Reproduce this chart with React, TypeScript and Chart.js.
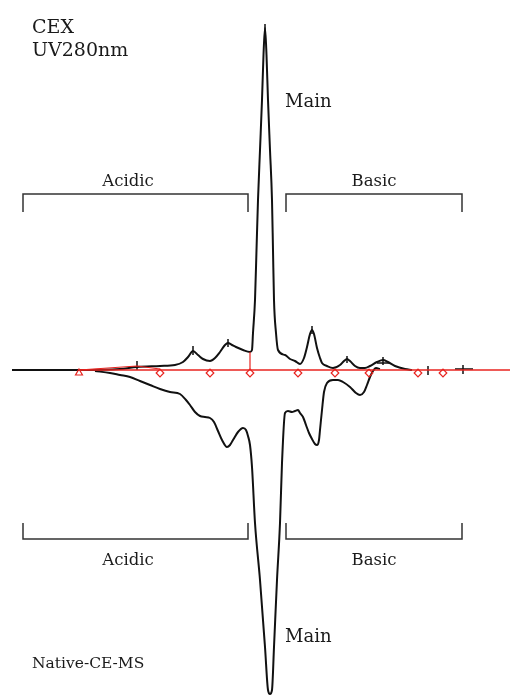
import React, { useEffect, useRef } from "react";
import { Chart, registerables } from "chart.js";

Chart.register(...registerables);

// CEX UV280nm trace (top), time in min, signal in relative units
const cexTime = [1.2, 8.0, 12.0, 13.7, 16.0, 17.5, 18.3, 18.8, 19.3, 19.8, 20.3, 21.0, 21.5, 22.0, 22.5, 22.8, 23.2, 23.6, 24.3, 25.0, 25.2, 25.3, 25.5, 25.65, 25.8, 26.0, 26.2, 26.35, 26.5, 26.65, 26.8, 27.0, 27.2, 27.3, 27.4, 27.6, 27.8, 28.5, 29.0, 29.5, 30.0, 30.4, 30.7, 31.0, 31.2, 31.4, 31.7, 32.0, 32.2, 32.7, 33.3, 34.0, 34.4, 34.7, 35.0, 35.5, 36.0, 36.5, 37.0, 37.7, 38.3, 38.8, 39.5, 40.5, 41.2];
const cexSignal = [0, 0, 1, 3, 4, 5, 8, 13, 19, 15, 11, 9, 12, 18, 25, 27, 25, 23, 20, 18, 20, 37, 70, 120, 170, 220, 270, 315, 342, 315, 270, 220, 170, 120, 70, 37, 20, 15, 11, 9, 6, 12, 23, 36, 40, 36, 22, 12, 7, 4, 2, 5, 9, 11, 9, 4, 2, 2, 4, 8, 10, 8, 4, 1, 0];

// Native-CE-MS trace (bottom, mirrored)
const msTime = [9.5, 11.0, 12.0, 13.0, 14.0, 15.0, 16.0, 17.0, 18.0, 18.6, 19.0, 19.5, 20.0, 20.5, 21.0, 21.4, 21.8, 22.2, 22.7, 23.0, 23.3, 23.8, 24.3, 24.6, 24.8, 25.0, 25.2, 25.5, 26.0, 26.5, 26.8, 27.0, 27.2, 27.4, 27.7, 28.0, 28.2, 28.5, 28.8, 29.2, 29.5, 29.8, 30.0, 30.3, 30.6, 30.9, 31.2, 31.5, 31.7, 31.9, 32.0, 32.2, 32.4, 32.7, 33.3, 33.8, 34.3, 35.0, 35.6, 36.0, 36.4, 36.7, 37.0, 37.3, 37.6, 38.0];
const msSignal = [-1, -3, -5, -7, -11, -15, -19, -22, -24, -30, -35, -42, -46, -47, -48, -52, -61, -70, -77, -75, -70, -62, -58, -60, -66, -75, -97, -153, -210, -277, -320, -324, -320, -277, -210, -153, -93, -43, -41, -42, -41, -40, -43, -47, -55, -63, -69, -74, -75, -70, -60, -40, -22, -13, -10, -10, -12, -17, -23, -25, -22, -15, -7, -1, 2, 1];

// Integration baseline (red)
const baselineTime = [7.9, 51];
const baselineSignal = [0, 0];
const integTime = [7.9, 13.7, 16.0];
const integSignal = [0, 4, 1];
const dropTime = [25.0, 25.0];
const dropSignal = [0, 18];

// Peak start/end markers (red)
const startMarkerTime = [7.9];
const markerTimes = [16.0, 21.0, 25.0, 29.8, 33.5, 36.9, 41.8, 44.3];
const markerLevel = -3;

// Black peak ticks
const tickTimes = [13.7, 19.3, 22.8, 26.5, 31.2, 34.7, 38.3, 42.8, 46.3];
const tickLow = [0, 15, 23, 338, 36, 7, 5, -5, -4];
const tickHigh = [9, 24, 31, 346, 44, 14, 13, 4, 5];
const crossTimes = [[37.7, 39.0], [45.5, 47.3]];
const crossLevel = [7, 1];

// Region brackets
const bracketStart = [2.3, 28.6];
const bracketEnd = [24.8, 46.2];
const topBracketLevel = 176;
const topBracketTip = 158;
const bottomBracketLevel = -169;
const bottomBracketTip = -153;

// Text annotations (data coordinates)
const labelText = ["CEX", "UV280nm", "Main", "Acidic", "Basic", "Acidic", "Basic", "Main", "Native-CE-MS"];
const labelTime = [3.2, 3.2, 28.5, 12.8, 37.4, 12.8, 37.4, 28.5, 3.2];
const labelSignal = [337, 314, 263, 184, 184, -195, -195, -272, -298];
const labelAlign = ["left", "left", "left", "center", "center", "center", "center", "left", "left"];
const labelSize = [19, 19, 18, 16.5, 16.5, 16.5, 16.5, 18, 15.5];

const X_MIN = 0;
const X_MAX = 51;
const Y_MIN = -326;
const Y_MAX = 370;

const zip = (xs: number[], ys: (number | null)[]) => xs.map((x, i) => ({ x, y: ys[i] }));

const labelPlugin = {
  id: "labels",
  afterDatasetsDraw(chart: any) {
    const { ctx, scales } = chart;
    ctx.save();
    ctx.fillStyle = "#1a1a1a";
    ctx.textBaseline = "alphabetic";
    labelText.forEach((t, i) => {
      ctx.font = `${labelSize[i]}px "DejaVu Serif", serif`;
      ctx.textAlign = labelAlign[i];
      ctx.fillText(t, scales.x.getPixelForValue(labelTime[i]), scales.y.getPixelForValue(labelSignal[i]));
    });
    ctx.restore();
  },
};

export default function App() {
  const ref = useRef<HTMLCanvasElement>(null);
  useEffect(() => {
    if (!ref.current) return;

    const tickData: { x: number; y: number | null }[] = [];
    tickTimes.forEach((t, i) => {
      tickData.push({ x: t, y: tickLow[i] }, { x: t, y: tickHigh[i] }, { x: t, y: null });
    });
    crossTimes.forEach((pair, i) => {
      tickData.push({ x: pair[0], y: crossLevel[i] }, { x: pair[1], y: crossLevel[i] }, { x: pair[1], y: null });
    });

    const bracketData = (level: number, tip: number) => {
      const d: { x: number; y: number | null }[] = [];
      bracketStart.forEach((s, i) => {
        d.push({ x: s, y: tip }, { x: s, y: level }, { x: bracketEnd[i], y: level }, { x: bracketEnd[i], y: tip }, { x: bracketEnd[i], y: null });
      });
      return d;
    };

    const red = "#e8231f";
    const lineBase = { showLine: true, pointRadius: 0, spanGaps: false, fill: false };

    const chart = new Chart(ref.current, {
      type: "scatter",
      data: {
        datasets: [
          { ...lineBase, data: zip(startMarkerTime, startMarkerTime.map(() => markerLevel)), showLine: false, pointRadius: 4, pointStyle: "triangle", borderColor: red, backgroundColor: "rgba(0,0,0,0)", borderWidth: 1.2, order: 0 },
          { ...lineBase, data: zip(markerTimes, markerTimes.map(() => markerLevel)), showLine: false, pointRadius: 3.8, pointStyle: "rectRot", borderColor: red, backgroundColor: "rgba(0,0,0,0)", borderWidth: 1.2, order: 0 },
          { ...lineBase, data: zip(baselineTime, baselineSignal), borderColor: red, borderWidth: 1.5, order: 1 },
          { ...lineBase, data: zip(integTime, integSignal), borderColor: red, borderWidth: 1.2, order: 1 },
          { ...lineBase, data: zip(dropTime, dropSignal), borderColor: red, borderWidth: 1.2, order: 1 },
          { ...lineBase, data: tickData, borderColor: "#111", borderWidth: 1.5, order: 2 },
          { ...lineBase, data: zip(cexTime, cexSignal), borderColor: "#111", borderWidth: 2, cubicInterpolationMode: "monotone", order: 3 },
          { ...lineBase, data: zip(msTime, msSignal), borderColor: "#111", borderWidth: 2, cubicInterpolationMode: "monotone", order: 3 },
          { ...lineBase, data: bracketData(topBracketLevel, topBracketTip), borderColor: "#333", borderWidth: 1.5, order: 4 },
          { ...lineBase, data: bracketData(bottomBracketLevel, bottomBracketTip), borderColor: "#333", borderWidth: 1.5, order: 4 },
        ],
      } as any,
      options: {
        animation: false,
        responsive: false,
        maintainAspectRatio: false,
        layout: { padding: 0, autoPadding: false },
        plugins: { legend: { display: false }, tooltip: { enabled: false } },
        scales: {
          x: { type: "linear", min: X_MIN, max: X_MAX, display: false },
          y: { type: "linear", min: Y_MIN, max: Y_MAX, display: false },
        },
      },
      plugins: [labelPlugin],
    });
    return () => chart.destroy();
  }, []);

  return (
    <div style={{ position: "fixed", left: 0, top: 0, width: 510, height: 696, background: "#fff" }}>
      <canvas ref={ref} width={510} height={696} style={{ display: "block" }} />
    </div>
  );
}
